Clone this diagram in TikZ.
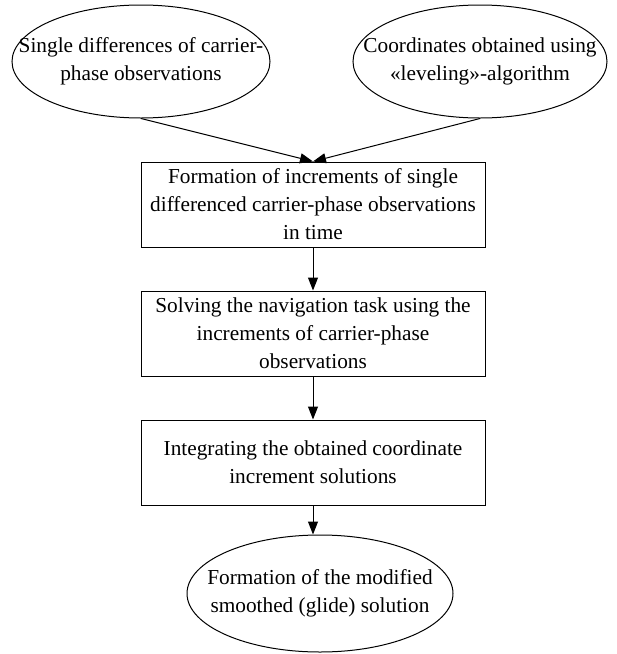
\documentclass[tikz,border=0pt]{standalone}
\usepackage{fontspec}
\setmainfont{Liberation Serif}
\usetikzlibrary{shapes.geometric,positioning,arrows.meta}

\begin{document}
\begin{tikzpicture}[x=1pt,y=-1pt,node distance=129pt,on grid,
    >={Triangle[length=13pt,width=10pt]},line width=1pt,
    font=\fontsize{21.3}{28}\selectfont,
    term/.style={ellipse,draw,inner sep=0pt},
    stage/.style={rectangle,draw,inner sep=0pt,minimum width=344pt,minimum height=85pt,align=center}]
    \useasboundingbox (0,0) rectangle (617,654);
    \node[term,minimum width=258pt,minimum height=113pt,
      label={[align=center]center:Single differences of carrier-\\phase observations}]
      (q_diff) at (141,61.5) {};
    \node[term,minimum width=254pt,minimum height=113pt,
      label={[align=center]center:Coordinates obtained using\\«leveling»-algorithm}]
      (q_coord) at (480,61.5) {};
    \node[stage] (q_0) at (313,204.5) {Formation of increments of single\\differenced carrier-phase observations\\in time};
    \node[stage] (q_1) [below=of q_0] {Solving the navigation task using the\\increments of carrier-phase\\observations};
    \node[stage] (q_2) [below=of q_1] {Integrating the obtained coordinate\\increment solutions};
    \node[term,minimum width=266pt,minimum height=117pt,xshift=7pt,
      label={[align=center]center:Formation of the modified\\smoothed (glide) solution}]
      (q_sol) [below=131pt of q_2] {};
    \path[->]
    (q_diff.south) edge (q_0.north)
    (q_coord.south) edge (q_0.north)
    (q_0) edge (q_1)
    (q_1) edge (q_2)
    (q_2.south) edge (q_2.south |- q_sol.north)
    ; %end path
\end{tikzpicture}
\end{document}
